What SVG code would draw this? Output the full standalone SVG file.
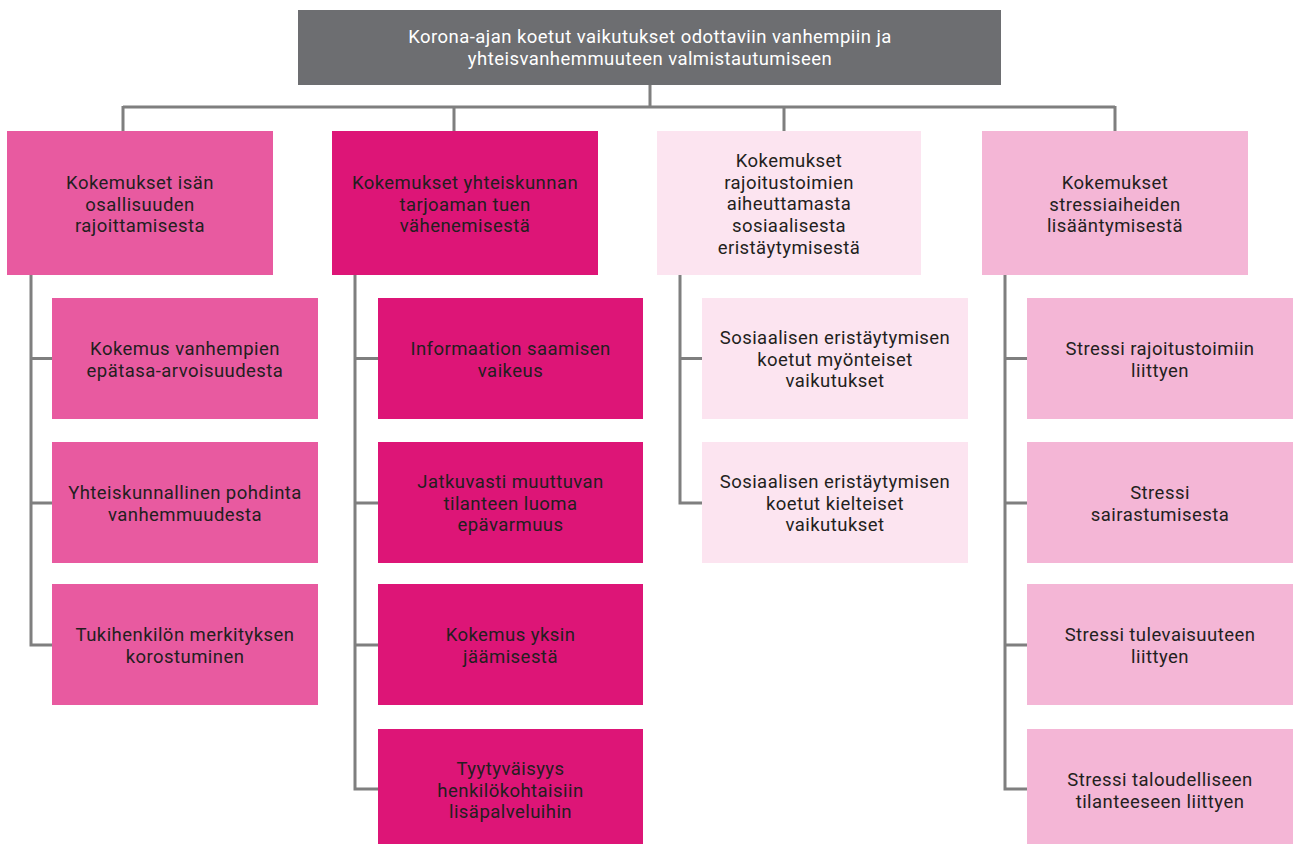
<svg xmlns="http://www.w3.org/2000/svg" width="1293" height="844" viewBox="0 0 1293 844">
<style>
.t{font-family:Roboto,"Liberation Sans",sans-serif;font-size:18.5px;letter-spacing:0.45px;fill:#231f20;text-anchor:middle}
.w{fill:#ffffff}
.c1{fill:#e85aa0}
.c2{fill:#dd1577}
.c3{fill:#fce4f0}
.c4{fill:#f4b6d6}
.top{fill:#6d6e71}
.ln{fill:none;stroke:#7f7f7f;stroke-width:3}
</style>
<rect width="1293" height="844" fill="#ffffff"/>
<g id="connectors">
<path class="ln" d="M650 85V107M123 107H1115M123 106V131M454 106V131M784 106V131M1115 106V131"/>
<path class="ln" d="M31 275V645H52M31 358.5H52M31 503H52"/>
<path class="ln" d="M355 275V789H378M355 358.5H378M355 503H378M355 645H378"/>
<path class="ln" d="M680 275V503H702M680 358.5H702"/>
<path class="ln" d="M1005 275V789H1027M1005 358.5H1027M1005 503H1027M1005 645H1027"/>
</g>
<g id="root">
<rect class="top" x="298" y="10" width="703" height="75"/>
<text class="t w" x="650" y="43">Korona-ajan koetut vaikutukset odottaviin vanhempiin ja<tspan x="650" dy="21.7">yhteisvanhemmuuteen valmistautumiseen</tspan></text>
</g>
<g id="n1">
<rect class="c1" x="7" y="131" width="266" height="144"/>
<text class="t" x="140" y="189">Kokemukset isän<tspan x="140" dy="21.7">osallisuuden</tspan><tspan x="140" dy="21.7">rajoittamisesta</tspan></text>
</g>
<g id="n2">
<rect class="c2" x="332" y="131" width="266" height="144"/>
<text class="t" x="465" y="189">Kokemukset yhteiskunnan<tspan x="465" dy="21.7">tarjoaman tuen</tspan><tspan x="465" dy="21.7">vähenemisestä</tspan></text>
</g>
<g id="n3">
<rect class="c3" x="657" y="131" width="264" height="144"/>
<text class="t" x="789" y="167">Kokemukset<tspan x="789" dy="21.7">rajoitustoimien</tspan><tspan x="789" dy="21.7">aiheuttamasta</tspan><tspan x="789" dy="21.7">sosiaalisesta</tspan><tspan x="789" dy="21.7">eristäytymisestä</tspan></text>
</g>
<g id="n4">
<rect class="c4" x="982" y="131" width="266" height="144"/>
<text class="t" x="1115" y="189">Kokemukset<tspan x="1115" dy="21.7">stressiaiheiden</tspan><tspan x="1115" dy="21.7">lisääntymisestä</tspan></text>
</g>
<g id="n1a">
<rect class="c1" x="52" y="298" width="266" height="121"/>
<text class="t" x="185" y="355">Kokemus vanhempien<tspan x="185" dy="21.7">epätasa-arvoisuudesta</tspan></text>
</g>
<g id="n1b">
<rect class="c1" x="52" y="442" width="266" height="121"/>
<text class="t" x="185" y="499">Yhteiskunnallinen pohdinta<tspan x="185" dy="21.7">vanhemmuudesta</tspan></text>
</g>
<g id="n1c">
<rect class="c1" x="52" y="584" width="266" height="121"/>
<text class="t" x="185" y="641">Tukihenkilön merkityksen<tspan x="185" dy="21.7">korostuminen</tspan></text>
</g>
<g id="n2a">
<rect class="c2" x="378" y="298" width="265" height="121"/>
<text class="t" x="510.5" y="355">Informaation saamisen<tspan x="510.5" dy="21.7">vaikeus</tspan></text>
</g>
<g id="n2b">
<rect class="c2" x="378" y="442" width="265" height="121"/>
<text class="t" x="510.5" y="488">Jatkuvasti muuttuvan<tspan x="510.5" dy="21.7">tilanteen luoma</tspan><tspan x="510.5" dy="21.7">epävarmuus</tspan></text>
</g>
<g id="n2c">
<rect class="c2" x="378" y="584" width="265" height="121"/>
<text class="t" x="510.5" y="641">Kokemus yksin<tspan x="510.5" dy="21.7">jäämisestä</tspan></text>
</g>
<g id="n2d">
<rect class="c2" x="378" y="729" width="265" height="122"/>
<text class="t" x="510.5" y="775">Tyytyväisyys<tspan x="510.5" dy="21.7">henkilökohtaisiin</tspan><tspan x="510.5" dy="21.7">lisäpalveluihin</tspan></text>
</g>
<g id="n3a">
<rect class="c3" x="702" y="298" width="266" height="121"/>
<text class="t" x="835" y="344">Sosiaalisen eristäytymisen<tspan x="835" dy="21.7">koetut myönteiset</tspan><tspan x="835" dy="21.7">vaikutukset</tspan></text>
</g>
<g id="n3b">
<rect class="c3" x="702" y="442" width="266" height="121"/>
<text class="t" x="835" y="488">Sosiaalisen eristäytymisen<tspan x="835" dy="21.7">koetut kielteiset</tspan><tspan x="835" dy="21.7">vaikutukset</tspan></text>
</g>
<g id="n4a">
<rect class="c4" x="1027" y="298" width="266" height="121"/>
<text class="t" x="1160" y="355">Stressi rajoitustoimiin<tspan x="1160" dy="21.7">liittyen</tspan></text>
</g>
<g id="n4b">
<rect class="c4" x="1027" y="442" width="266" height="121"/>
<text class="t" x="1160" y="499">Stressi<tspan x="1160" dy="21.7">sairastumisesta</tspan></text>
</g>
<g id="n4c">
<rect class="c4" x="1027" y="584" width="266" height="121"/>
<text class="t" x="1160" y="641">Stressi tulevaisuuteen<tspan x="1160" dy="21.7">liittyen</tspan></text>
</g>
<g id="n4d">
<rect class="c4" x="1027" y="729" width="266" height="122"/>
<text class="t" x="1160" y="786">Stressi taloudelliseen<tspan x="1160" dy="21.7">tilanteeseen liittyen</tspan></text>
</g>
</svg>
